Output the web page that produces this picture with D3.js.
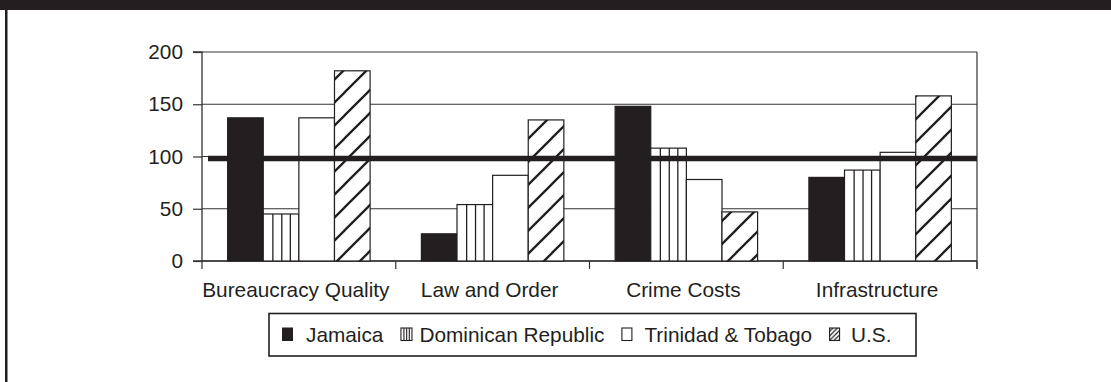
<!DOCTYPE html>
<html>
<head>
<meta charset="utf-8">
<script src="https://cdn.jsdelivr.net/npm/d3@7/dist/d3.min.js"></script>
<style>
  html, body { margin: 0; padding: 0; background: #fff; }
  svg { display: block; }
  text { font-family: "Liberation Sans", Arial, Helvetica, sans-serif; fill: #231f20; }
</style>
</head>
<body>
<svg id="chart" width="1111" height="382"></svg>
<script>
// Index values by category (reference level = 100)
const categories = ["Bureaucracy Quality", "Law and Order", "Crime Costs", "Infrastructure"];
const seriesNames = ["Jamaica", "Dominican Republic", "Trinidad & Tobago", "U.S."];
const jamaica = [137, 26, 148, 80];
const dominicanRepublic = [45, 54, 108, 87];
const trinidadTobago = [137, 82, 78, 104];
const us = [182, 135, 47, 158];
const yTicks = [0, 50, 100, 150, 200];
const referenceLevel = 100;

const seriesValues = [jamaica, dominicanRepublic, trinidadTobago, us];
const ink = "#231f20";
const fontSize = 20.8;

const svg = d3.select("#chart");
svg.append("rect").attr("width", 1111).attr("height", 382).attr("fill", "#fff");

// page frame: dark band on top, rule down the left side
svg.append("rect").attr("x", 0).attr("y", 0).attr("width", 1111).attr("height", 10).attr("fill", ink);
svg.append("rect").attr("x", 5).attr("y", 0).attr("width", 2.5).attr("height", 382).attr("fill", ink);

const plot = { left: 202, right: 977, top: 52, bottom: 261 };

const x0 = d3.scaleBand().domain(categories).range([plot.left, plot.right]).padding(0);
const x1 = d3.scaleBand().domain(seriesNames).range([0, x0.bandwidth()])
  .paddingInner(0).paddingOuter(0.72);
const y = d3.scaleLinear().domain([0, 200]).range([plot.bottom, plot.top]);

// hatch pattern for the U.S. bars
const defs = svg.append("defs");
function hatch(id, s, w) {
  const p = defs.append("pattern").attr("id", id)
    .attr("patternUnits", "userSpaceOnUse").attr("width", s).attr("height", s);
  p.append("rect").attr("width", s).attr("height", s).attr("fill", "#fff");
  p.append("path")
    .attr("d", `M0,${s} L${s},0 M${-s / 2},${s / 2} L${s / 2},${-s / 2} M${s / 2},${s * 1.5} L${s * 1.5},${s / 2}`)
    .attr("stroke", ink).attr("stroke-width", w);
}
hatch("hatchBar", 23, 2.3);
hatch("hatchKey", 4.5, 1.2);

// gridlines
svg.append("g").selectAll("line").data(yTicks).join("line")
  .attr("x1", plot.left).attr("x2", plot.right)
  .attr("y1", d => y(d)).attr("y2", d => y(d))
  .attr("stroke", "#333").attr("stroke-width", 1.1);

// plot frame on the right
svg.append("line").attr("x1", plot.right).attr("x2", plot.right)
  .attr("y1", plot.top).attr("y2", plot.bottom + 8)
  .attr("stroke", "#333").attr("stroke-width", 1.2);

// y axis
const yAxis = d3.axisLeft(y).tickValues(yTicks).tickSize(9).tickPadding(10);
const gy = svg.append("g").attr("transform", `translate(${plot.left},0)`).call(yAxis);
gy.select(".domain").attr("stroke", "#333").attr("stroke-width", 1.3)
  .attr("d", `M-9,${plot.top}H0V${plot.bottom}H-9`);
gy.selectAll(".tick line").attr("stroke", "#333").attr("stroke-width", 1.2);
gy.selectAll(".tick text").attr("font-size", fontSize).attr("fill", ink)
  .style("font-family", '"Liberation Sans", Arial, sans-serif');

// x axis: ticks at category boundaries
const boundaries = categories.map(c => x0(c)).concat([plot.right]);
svg.append("line").attr("x1", plot.left).attr("x2", plot.right)
  .attr("y1", plot.bottom).attr("y2", plot.bottom)
  .attr("stroke", "#333").attr("stroke-width", 1.3);
svg.append("g").selectAll("line").data(boundaries).join("line")
  .attr("x1", d => d).attr("x2", d => d)
  .attr("y1", plot.bottom).attr("y2", plot.bottom + 8)
  .attr("stroke", "#333").attr("stroke-width", 1.2);
svg.append("g").selectAll("text").data(categories).join("text")
  .attr("x", d => x0(d) + x0.bandwidth() / 2 - 3)
  .attr("y", 296.5)
  .attr("text-anchor", "middle")
  .attr("font-size", fontSize)
  .text(d => d);

// bars
const bars = [];
categories.forEach((c, ci) => {
  seriesNames.forEach((s, si) => {
    bars.push({ category: c, series: s, si, value: seriesValues[si][ci] });
  });
});

const fills = [ink, "#fff", "#fff", "url(#hatchBar)"];
const gBars = svg.append("g");
gBars.selectAll("rect").data(bars).join("rect")
  .attr("x", d => x0(d.category) + x1(d.series))
  .attr("y", d => y(d.value))
  .attr("width", x1.bandwidth())
  .attr("height", d => y(0) - y(d.value))
  .attr("fill", d => fills[d.si])
  .attr("stroke", ink).attr("stroke-width", 1.2);

// vertical stripes for the Dominican Republic bars
const stripeSteps = [0.27, 0.52, 0.76];
bars.filter(d => d.si === 1).forEach(d => {
  const bx = x0(d.category) + x1(d.series);
  gBars.append("g").selectAll("line").data(stripeSteps).join("line")
    .attr("x1", f => bx + f * x1.bandwidth()).attr("x2", f => bx + f * x1.bandwidth())
    .attr("y1", y(d.value)).attr("y2", y(0))
    .attr("stroke", ink).attr("stroke-width", 1.3);
});

// reference level line
svg.append("line")
  .attr("x1", plot.left + 6).attr("x2", plot.right)
  .attr("y1", y(referenceLevel) + 2).attr("y2", y(referenceLevel) + 2)
  .attr("stroke", ink).attr("stroke-width", 5.5);

// legend
const legend = svg.append("g");
legend.append("rect").attr("x", 269).attr("y", 313.5).attr("width", 647).attr("height", 42.5)
  .attr("fill", "#fff").attr("stroke", ink).attr("stroke-width", 1.6);

const keyGapAfter = [13, 8, 12, 11];
let cx = 282;
seriesNames.forEach((s, si) => {
  const g = legend.append("g");
  const sw = 11, sh = 13.5, sy = 327.5;
  if (si === 0) {
    g.append("rect").attr("x", cx).attr("y", sy).attr("width", sw).attr("height", sh).attr("fill", ink);
  } else if (si === 1) {
    g.append("rect").attr("x", cx + 0.5).attr("y", sy + 0.5).attr("width", sw).attr("height", sh - 1)
      .attr("fill", "#fff").attr("stroke", ink).attr("stroke-width", 1.1);
    stripeSteps.forEach(f => {
      g.append("line").attr("x1", cx + 0.5 + f * sw).attr("x2", cx + 0.5 + f * sw)
        .attr("y1", sy + 0.5).attr("y2", sy + sh - 0.5).attr("stroke", ink).attr("stroke-width", 1.1);
    });
  } else if (si === 2) {
    g.append("rect").attr("x", cx + 0.5).attr("y", sy + 0.5).attr("width", sw - 1).attr("height", sh - 1)
      .attr("fill", "#fff").attr("stroke", ink).attr("stroke-width", 1.1);
  } else {
    g.append("rect").attr("x", cx + 0.5).attr("y", sy + 0.5).attr("width", sw - 1).attr("height", sh - 1)
      .attr("fill", "url(#hatchKey)").attr("stroke", ink).attr("stroke-width", 1.1);
  }
  const t = g.append("text").attr("x", cx + sw + keyGapAfter[si]).attr("y", 341.5)
    .attr("font-size", fontSize).text(s);
  cx = cx + sw + keyGapAfter[si] + t.node().getComputedTextLength() + 17;
});
</script>
</body>
</html>
